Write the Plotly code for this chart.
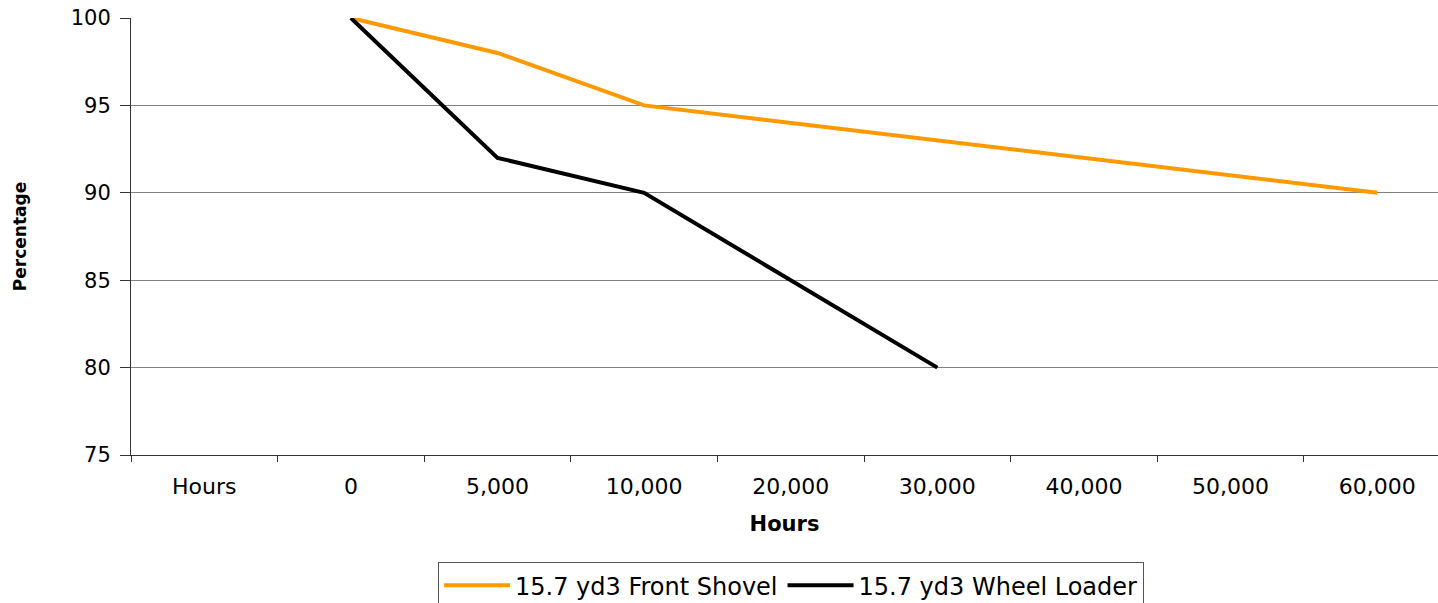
import plotly.graph_objects as go

categories = ["Hours", "0", "5,000", "10,000", "20,000", "30,000", "40,000", "50,000", "60,000"]
front_shovel = [None, 100, 98, 95, 94, 93, 92, 91, 90]
wheel_loader = [None, 100, 92, 90, 85, 80, None, None, None]

fig = go.Figure()
fig.add_trace(go.Scatter(x=categories, y=front_shovel, mode="lines", name="15.7 yd3 Front Shovel",
                         line=dict(color="#FF9900", width=4)))
fig.add_trace(go.Scatter(x=categories, y=wheel_loader, mode="lines", name="15.7 yd3 Wheel Loader",
                         line=dict(color="#000000", width=4)))

font_family = "DejaVu Sans, Liberation Sans, Arial, sans-serif"
fig.update_layout(
    width=1438, height=603,
    margin=dict(l=131, r=0, t=18, b=148, autoexpand=False),
    plot_bgcolor="white", paper_bgcolor="white",
    font=dict(family=font_family, color="black"),
    showlegend=True,
    legend=dict(orientation="h", x=0.505, xanchor="center", y=-0.245, yanchor="top",
                bordercolor="#555555", borderwidth=1, font=dict(size=24),
                itemwidth=66, traceorder="normal"),
)
fig.update_xaxes(
    type="category", categoryorder="array", categoryarray=categories,
    range=[-0.5, 8.415],
    showline=True, linecolor="#333333", linewidth=1,
    ticks="outside", tickson="boundaries", ticklen=6, tickcolor="#333333",
    showgrid=False, tickfont=dict(size=22), ticklabelstandoff=12,
    title=dict(text="<b>Hours</b>", font=dict(size=21), standoff=17),
)
fig.update_yaxes(
    range=[75, 100], dtick=5, tick0=75,
    showline=True, linecolor="#333333", linewidth=1,
    ticks="outside", ticklen=10, tickcolor="#333333",
    showgrid=True, gridcolor="#808080", gridwidth=1,
    tickfont=dict(size=21), zeroline=False, ticklabelstandoff=5,
    ticklabeloverflow="allow",
    title=dict(text="<b>Percentage</b>", font=dict(size=17), standoff=39),
)
fig.write_html("out.html", config={"displayModeBar": False},
               post_script="document.body.style.margin='0';")
